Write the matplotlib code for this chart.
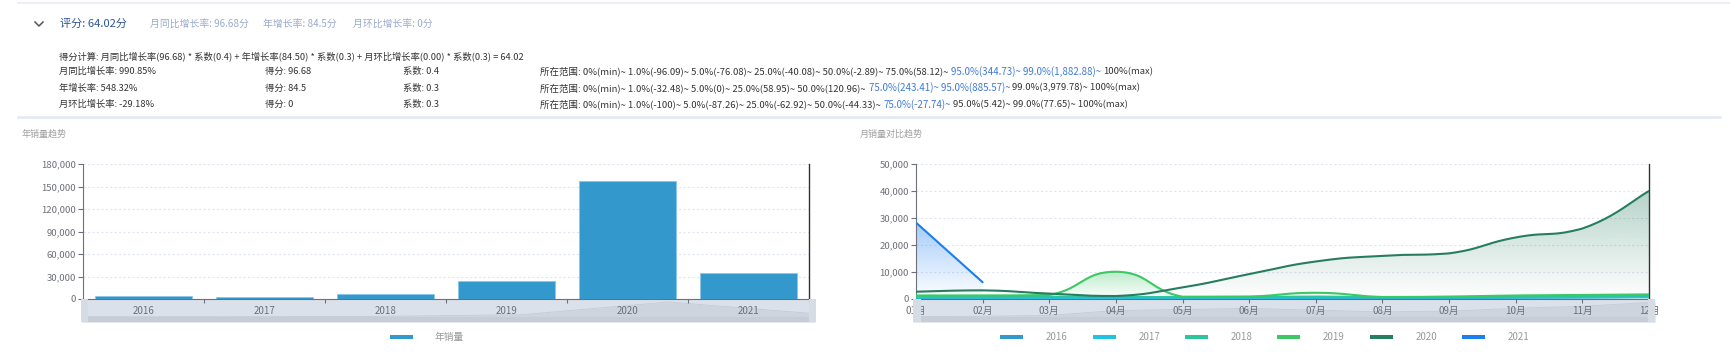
import matplotlib
matplotlib.use("Agg")
import matplotlib.pyplot as plt
import numpy as np
from matplotlib.patches import Rectangle, Polygon
from matplotlib.lines import Line2D
from matplotlib.colors import to_rgb
from matplotlib.ticker import FuncFormatter

plt.rcParams['font.family'] = ['Noto Sans CJK SC', 'DejaVu Sans']

W, H = 1731, 359

# 头部评分
score_title = '评分: 64.02分'
score_parts = ['月同比增长率: 96.68分', '年增长率: 84.5分', '月环比增长率: 0分']
formula = '得分计算: 月同比增长率(96.68) * 系数(0.4) + 年增长率(84.50) * 系数(0.3) + 月环比增长率(0.00) * 系数(0.3) = 64.02'
rates = ['月同比增长率: 990.85%', '年增长率: 548.32%', '月环比增长率: -29.18%']
scores = ['得分: 96.68', '得分: 84.5', '得分: 0']
coefs = ['系数: 0.4', '系数: 0.3', '系数: 0.3']
# 所在范围 (文本, 是否高亮)
ranges = [
    [('所在范围: 0%(min)~ 1.0%(-96.09)~ 5.0%(-76.08)~ 25.0%(-40.08)~ 50.0%(-2.89)~ 75.0%(58.12)~', False),
     ('95.0%(344.73)~ 99.0%(1,882.88)~', True),
     ('100%(max)', False)],
    [('所在范围: 0%(min)~ 1.0%(-32.48)~ 5.0%(0)~ 25.0%(58.95)~ 50.0%(120.96)~', False),
     ('75.0%(243.41)~ 95.0%(885.57)~', True),
     ('99.0%(3,979.78)~ 100%(max)', False)],
    [('所在范围: 0%(min)~ 1.0%(-100)~ 5.0%(-87.26)~ 25.0%(-62.92)~ 50.0%(-44.33)~', False),
     ('75.0%(-27.74)~', True),
     ('95.0%(5.42)~ 99.0%(77.65)~ 100%(max)', False)],
]

# 年销量
years = ['2016', '2017', '2018', '2019', '2020', '2021']
year_sales = [3500, 2700, 6300, 24000, 156900, 34200]

# 月销量
months = ['01月', '02月', '03月', '04月', '05月', '06月', '07月', '08月', '09月', '10月', '11月', '12月']
m2016 = [20, 40, 80, 345, 400, 456, 360, 272, 320, 472, 584, 800]
m2017 = [500, 450, 400, 450, 400, 400, 500, 450, 450, 550, 600, 700]
m2018 = [1000, 950, 850, 750, 700, 800, 900, 650, 700, 1000, 1100, 1300]
m2019 = [1300, 1300, 1500, 10100, 850, 900, 2300, 750, 900, 1300, 1500, 1700]
m2020 = [2700, 3200, 2000, 1100, 4300, 9200, 13900, 16000, 16900, 22800, 26100, 40000]
m2021 = [28300, 6200]
series_names = ['2016', '2017', '2018', '2019', '2020', '2021']
series_colors = ['#3398cc', '#22c3e0', '#2ec49e', '#3cc864', '#277d60', '#1a7ff0']
area_alpha = [0.3, 0.3, 0.3, 0.35, 0.34, 0.4]

AXIS_GRAY = '#6e7079'
GRID = '#e0e6f1'

fig = plt.figure(figsize=(W / 100, H / 100), dpi=100)


def px_axes(x0, y0, x1, y1, **kw):
    return fig.add_axes([x0 / W, 1 - y1 / H, (x1 - x0) / W, (y1 - y0) / H], **kw)


def smooth(xs, ys, k=0.5, n=24):
    # echarts 风格的平滑曲线 (控制点限制在相邻点之间)
    xs = np.asarray(xs, float)
    ys = np.asarray(ys, float)
    if len(xs) < 3:
        return xs, ys
    px, py = [xs[0]], [ys[0]]
    m = len(xs)
    for i in range(m - 1):
        p0 = max(i - 1, 0)
        p2 = min(i + 2, m - 1)
        c1x = xs[i] + (xs[i + 1] - xs[p0]) * k * 0.5
        c1y = ys[i] + (ys[i + 1] - ys[p0]) * k * 0.5
        c2x = xs[i + 1] - (xs[p2] - xs[i]) * k * 0.5
        c2y = ys[i + 1] - (ys[p2] - ys[i]) * k * 0.5
        lo, hi = min(ys[i], ys[i + 1]), max(ys[i], ys[i + 1])
        c1y = min(max(c1y, lo), hi)
        c2y = min(max(c2y, lo), hi)
        c1x = min(c1x, xs[i + 1])
        c2x = max(c2x, xs[i])
        t = np.linspace(0, 1, n)[1:]
        bx = (1 - t) ** 3 * xs[i] + 3 * (1 - t) ** 2 * t * c1x + 3 * (1 - t) * t ** 2 * c2x + t ** 3 * xs[i + 1]
        by = (1 - t) ** 3 * ys[i] + 3 * (1 - t) ** 2 * t * c1y + 3 * (1 - t) * t ** 2 * c2y + t ** 3 * ys[i + 1]
        px.extend(bx)
        py.extend(by)
    return np.array(px), np.array(py)


def grad_fill(ax, x, y, color, a_top, z):
    poly = Polygon(np.column_stack([np.concatenate([x, x[::-1]]),
                                    np.concatenate([y, np.zeros_like(y)])]),
                   closed=True, fc='none', ec='none')
    ax.add_patch(poly)
    img = np.zeros((256, 1, 4))
    img[..., :3] = to_rgb(color)
    img[:, 0, 3] = np.linspace(a_top, 0.0, 256)
    im = ax.imshow(img, extent=[x.min(), x.max(), 0, y.max()], aspect='auto',
                   origin='upper', zorder=z, interpolation='bilinear')
    im.set_clip_path(poly)


def style_axes(ax):
    ax.patch.set_alpha(0)
    ax.spines['top'].set_visible(False)
    ax.spines['left'].set_color(AXIS_GRAY)
    ax.spines['bottom'].set_color(AXIS_GRAY)
    ax.spines['right'].set_color('#333333')
    ax.spines['right'].set_linewidth(1.0)
    ax.yaxis.grid(True, ls=(0, (2, 2)), color=GRID, lw=0.8)
    ax.set_axisbelow(True)
    ax.tick_params(axis='y', length=3.5, width=0.8, color=AXIS_GRAY, labelcolor=AXIS_GRAY,
                   labelsize=6.9, pad=1.5)
    ax.yaxis.set_major_formatter(FuncFormatter(lambda v, p: f'{int(v):,}'))


def slider(x0, x1, vals):
    sl = px_axes(x0, 299, x1, 322, zorder=1)
    for s in sl.spines.values():
        s.set_visible(False)
    sl.set_xticks([])
    sl.set_yticks([])
    sl.set_facecolor('#dbe1ea')
    mx = max(vals)
    lo = -0.333 * mx
    sl.set_xlim(0, len(vals) - 1)
    sl.set_ylim(lo, 1.2 * mx)
    sl.fill_between(range(len(vals)), vals, lo, color='#cdd4de', lw=0)
    sl.plot(range(len(vals)), vals, color='#c3cbd5', lw=0.6)
    sl.axhspan(lo, 0, color='#c6cdd6', lw=0)


# ---------- 年销量趋势 (柱状图) ----------
ax1 = px_axes(83, 164, 809, 299, zorder=2)
style_axes(ax1)
ax1.bar(range(len(years)), year_sales, width=0.8, color='#3398cc', edgecolor='#8cc6e8', lw=0.6, zorder=3)
ax1.set_xlim(-0.5, len(years) - 0.5)
ax1.set_ylim(0, 180000)
ax1.set_yticks(range(0, 180001, 30000))
ax1.set_xticks(range(len(years)), years)
ax1.set_xticks(np.arange(-0.5, len(years), 1), minor=True)
ax1.tick_params(axis='x', which='major', length=0, labelcolor=AXIS_GRAY, labelsize=7, pad=5)
ax1.tick_params(axis='x', which='minor', length=3, width=0.8, color=AXIS_GRAY)
slider(82, 815, year_sales)

# ---------- 月销量对比趋势 (折线图) ----------
ax2 = px_axes(916, 164, 1649, 299, zorder=2)
style_axes(ax2)
xm = np.arange(len(months))
all_series = [m2016, m2017, m2018, m2019, m2020, m2021]
for i, vals in enumerate(all_series):
    x = xm[:len(vals)]
    sx, sy = smooth(x, vals)
    grad_fill(ax2, sx, sy, series_colors[i], area_alpha[i], 2 + i * 0.1)
    ax2.plot(sx, sy, color=series_colors[i], lw=1.5, zorder=3 + i * 0.1, solid_capstyle='round')
ax2.set_xlim(0, len(months) - 1)
ax2.set_ylim(0, 50000)
ax2.set_yticks(range(0, 50001, 10000))
ax2.set_xticks(xm, months)
ax2.tick_params(axis='x', length=3, width=0.8, color=AXIS_GRAY, labelcolor=AXIS_GRAY, labelsize=7, pad=2)
slider(913, 1655, m2016)

# ---------- 覆盖层: 文本, 图例, 滑块手柄 ----------
ov = fig.add_axes([0, 0, 1, 1], zorder=5)
ov.set_xlim(0, W)
ov.set_ylim(H, 0)
ov.set_axis_off()

ov.add_line(Line2D([18, W], [3, 3], color='#e8ecf3', lw=1.2))
ov.add_line(Line2D([18, 1720], [117, 117], color='#e3e8f2', lw=1.8))
ov.add_line(Line2D([35, 39, 43], [22, 26, 22], color='#555555', lw=1.1))

r = fig.canvas.get_renderer()
ov.text(60, 24, score_title, fontsize=8.0, color='#2f5597', va='center')
xs_parts = [150, 263, 353]
for xp, s in zip(xs_parts, score_parts):
    ov.text(xp, 24, s, fontsize=7.1, color='#9aabcc', va='center')

ov.text(59, 56, formula, fontsize=6.7, color='#333333', va='center')
rows_y = [71.5, 88, 104.5]
for j, yy in enumerate(rows_y):
    ov.text(59, yy, rates[j], fontsize=6.7, color='#333333', va='center')
    ov.text(265, yy, scores[j], fontsize=6.7, color='#333333', va='center')
    ov.text(403, yy, coefs[j], fontsize=6.7, color='#333333', va='center')
    xx = 540
    for s, hi in ranges[j]:
        tt = ov.text(xx, yy, s, fontsize=7.0 if hi else 6.8,
                     color='#3f7ad6' if hi else '#333333', va='center')
        xx += tt.get_window_extent(r).width + (1.5 if hi else 3)

ov.text(22, 134, '年销量趋势', fontsize=6.5, color='#a0a0a0', va='center')
ov.text(860, 134, '月销量对比趋势', fontsize=6.5, color='#a0a0a0', va='center')

# 滑块手柄
for hx, hw in [(81, 7), (809, 7), (913, 8), (1648, 7)]:
    ov.add_patch(Rectangle((hx, 299), hw, 23, color='#d5dce4', lw=0))

# 图例
ov.add_line(Line2D([390, 413], [337, 337], color='#3398cc', lw=2.9, solid_capstyle='butt'))
ov.text(435, 337, '年销量', fontsize=7, color='#999999', va='center')
leg_x = [1000, 1093, 1185, 1277, 1370, 1462]
for lx, name, c in zip(leg_x, series_names, series_colors):
    ov.add_line(Line2D([lx, lx + 23], [337, 337], color=c, lw=2.9, solid_capstyle='butt'))
    ov.text(lx + 46, 337, name, fontsize=7, color='#999999', va='center')

fig.savefig('out.png', dpi=100)
